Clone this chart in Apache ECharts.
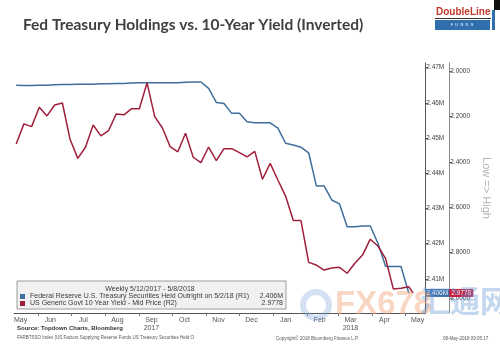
<!DOCTYPE html>
<html>
<head>
<meta charset="utf-8">
<script src="https://cdn.jsdelivr.net/npm/echarts@6/dist/echarts.min.js"></script>
<style>
  html, body { margin: 0; padding: 0; background: #ffffff; }
  #chart { width: 500px; height: 348px; }
</style>
</head>
<body>
<div id="chart"></div>
<script>
// Weekly observation dates (Fridays, plus the latest partial week)
const weekDates = [
  '2017-05-12','2017-05-19','2017-05-26','2017-06-02','2017-06-09','2017-06-16','2017-06-23','2017-06-30',
  '2017-07-07','2017-07-14','2017-07-21','2017-07-28','2017-08-04','2017-08-11','2017-08-18','2017-08-25',
  '2017-09-01','2017-09-08','2017-09-15','2017-09-22','2017-09-29','2017-10-06','2017-10-13','2017-10-20',
  '2017-10-27','2017-11-03','2017-11-10','2017-11-17','2017-11-24','2017-12-01','2017-12-08','2017-12-15',
  '2017-12-22','2017-12-29','2018-01-05','2018-01-12','2018-01-19','2018-01-26','2018-02-02','2018-02-09',
  '2018-02-16','2018-02-23','2018-03-02','2018-03-09','2018-03-16','2018-03-23','2018-03-30','2018-04-06',
  '2018-04-13','2018-04-20','2018-04-27','2018-05-04','2018-05-08'
];

// Fed Treasury securities held outright (millions of $ millions, shown as "M")
const fedHoldings = [
  2.4650, 2.4649, 2.4649, 2.4650, 2.4650, 2.4651, 2.4652, 2.4652, 2.4653, 2.4653,
  2.4653, 2.4654, 2.4654, 2.4655, 2.4655, 2.4656, 2.4657, 2.4657, 2.4657, 2.4657,
  2.4657, 2.4657, 2.4658, 2.4659, 2.4659, 2.4641, 2.4601, 2.4598, 2.4570, 2.4570,
  2.4546, 2.4543, 2.4543, 2.4543, 2.4528, 2.4485, 2.4480, 2.4474, 2.4458, 2.4364,
  2.4364, 2.4324, 2.4313, 2.4248, 2.4248, 2.4250, 2.4250, 2.4201, 2.4135, 2.4135,
  2.4135, 2.4060, null
];

// US generic govt 10-year yield, mid price (%)
const tenYearYield = [
  2.322, 2.233, 2.245, 2.160, 2.198, 2.150, 2.141, 2.301, 2.385, 2.336,
  2.238, 2.286, 2.263, 2.189, 2.193, 2.166, 2.166, 2.052, 2.201, 2.251,
  2.333, 2.356, 2.274, 2.380, 2.404, 2.335, 2.395, 2.342, 2.342, 2.360,
  2.378, 2.354, 2.477, 2.407, 2.480, 2.551, 2.659, 2.659, 2.843, 2.855,
  2.877, 2.868, 2.865, 2.891, 2.847, 2.811, 2.741, 2.771, 2.827, 2.960,
  2.957, 2.950, 2.9778
];

const seriesNames = [
  'Federal Reserve U.S. Treasury Securities Held Outright on 5/2/18 (R1)',
  'US Generic Govt 10 Year Yield - Mid Price (R2)'
];
const lastValueText = ['2.406M', '2.9778'];

// Month labels sit mid-month; ticks mark month starts
const monthLabelDates = [
  '2017-05-16','2017-06-12','2017-07-12','2017-08-12','2017-09-12','2017-10-12','2017-11-12',
  '2017-12-12','2018-01-12','2018-02-12','2018-03-12','2018-04-12','2018-05-12'
];
const monthLabelTexts = ['May','Jun','Jul','Aug','Sep\n2017','Oct','Nov','Dec','Jan','Feb','Mar\n2018','Apr','May'];
const monthStartDates = [
  '2017-06-01','2017-07-01','2017-08-01','2017-09-01','2017-10-01','2017-11-01','2017-12-01',
  '2018-01-01','2018-02-01','2018-03-01','2018-04-01','2018-05-01'
];

const holdingsTicks = [2.41, 2.42, 2.43, 2.44, 2.45, 2.46, 2.47];
const yieldTicks = [2.0, 2.2, 2.4, 2.6, 2.8, 3.0];

const BLUE = '#3f6f9c';
const RED = '#a01f3a';
const FONT = '"Liberation Sans", Arial, sans-serif';

const toTime = d => new Date(d + 'T00:00:00Z').getTime();
const labelTimes = monthLabelDates.map(toTime);
const tickTimes = monthStartDates.map(toTime);

const chart = echarts.init(document.getElementById('chart'), null, { renderer: 'canvas' });

const option = {
  animation: false,
  backgroundColor: '#ffffff',
  title: {
    text: 'Fed Treasury Holdings vs. 10-Year Yield (Inverted)',
    left: 18, top: 12,
    textStyle: { fontFamily: 'Lato, "Open Sans", sans-serif', fontSize: 15.5, fontWeight: 'bold', color: '#404040' }
  },
  grid: { left: 14, right: 57, top: 63, bottom: 35, containLabel: false },
  legend: {
    orient: 'vertical',
    left: 17, top: 281,
    icon: 'rect', itemWidth: 5, itemHeight: 5, itemGap: 0,
    padding: [12, 3, 2, 3],
    backgroundColor: '#f1f1f1', borderColor: '#9c9c9c', borderWidth: 1,
    selectedMode: false,
    textStyle: {
      fontFamily: FONT, fontSize: 7, color: '#3a3a3a',
      rich: {
        n: { fontFamily: FONT, fontSize: 7, color: '#3a3a3a', width: 226 },
        v: { fontFamily: FONT, fontSize: 7, color: '#3a3a3a', width: 27, align: 'right' }
      }
    },
    formatter: name => `{n|${name}}{v|${lastValueText[seriesNames.indexOf(name)]}}`,
    data: seriesNames
  },
  xAxis: {
    type: 'value',
    min: toTime('2017-05-10'),
    max: toTime('2018-05-19'),
    axisLine: { show: true, onZero: false, lineStyle: { color: '#555555', width: 1 } },
    axisTick: { show: true, customValues: tickTimes, length: 3, lineStyle: { color: '#777777' } },
    axisLabel: {
      customValues: labelTimes,
      formatter: v => monthLabelTexts[labelTimes.indexOf(v)] || '',
      fontFamily: FONT, fontSize: 7, color: '#555555', margin: 3, lineHeight: 8
    },
    splitLine: { show: false }
  },
  yAxis: [
    {
      type: 'value', position: 'right',
      min: 2.4003, max: 2.4713,
      axisLine: { show: true, lineStyle: { color: '#555555', width: 1 } },
      axisTick: { show: true, customValues: holdingsTicks, length: 3, lineStyle: { color: '#555555' } },
      axisLabel: {
        customValues: holdingsTicks,
        formatter: v => v.toFixed(2) + 'M',
        fontFamily: FONT, fontSize: 6.5, color: '#444444', margin: 1
      },
      splitLine: { show: false }
    },
    {
      type: 'value', position: 'right', offset: 24, inverse: true,
      min: 1.9648, max: 3.0661,
      name: 'Low => High', nameLocation: 'middle', nameRotate: -90, nameGap: 17,
      nameTextStyle: { fontFamily: FONT, fontSize: 11, color: '#b4b4b4', padding: [0, 0, 0, 0] },
      axisLine: { show: true, lineStyle: { color: '#8a8a8a', width: 1 } },
      axisTick: { show: true, customValues: yieldTicks, length: 3, lineStyle: { color: '#666666' } },
      axisLabel: {
        customValues: yieldTicks,
        formatter: v => v.toFixed(4),
        fontFamily: FONT, fontSize: 6.5, color: '#444444', margin: 1
      },
      splitLine: { show: false }
    }
  ],
  series: [
    {
      name: seriesNames[0], type: 'line', yAxisIndex: 0, showSymbol: false,
      data: weekDates.map((d, i) => [toTime(d), fedHoldings[i]]),
      lineStyle: { color: BLUE, width: 1.5 }, itemStyle: { color: BLUE }
    },
    {
      name: seriesNames[1], type: 'line', yAxisIndex: 1, showSymbol: false,
      data: weekDates.map((d, i) => [toTime(d), tenYearYield[i]]),
      lineStyle: { color: RED, width: 1.5 }, itemStyle: { color: RED }, z: 3
    }
  ]
};

chart.setOption(option);

// Value tags at the right axes, placed through the axes' own scales
const lastHolding = fedHoldings.filter(v => v != null).slice(-1)[0];
const lastYield = tenYearYield[tenYearYield.length - 1];
const axisX = chart.convertToPixel({ xAxisIndex: 0 }, toTime('2018-05-19'));
const holdY = chart.convertToPixel({ yAxisIndex: 0 }, lastHolding);
const yieldY = chart.convertToPixel({ yAxisIndex: 1 }, lastYield);

const tag = (x, y, text, color) => ({
  type: 'group', x: x, y: y, z: 20,
  children: [
    { type: 'rect', z: 20, shape: { x: 0, y: -4, width: 24, height: 8 }, style: { fill: color } },
    { type: 'text', z: 21, x: 12, y: 0, style: { text: text, fill: '#ffffff', font: '6.5px ' + FONT, align: 'center', verticalAlign: 'middle' } }
  ]
});

chart.setOption({
  graphic: [
    // legend header
    { type: 'text', z: 50, x: 150, y: 289, style: { text: 'Weekly 5/12/2017 - 5/8/2018', fill: '#3a3a3a', font: '7px ' + FONT, align: 'center', verticalAlign: 'middle' } },
    tag(axisX, holdY, lastValueText[0], '#3a6ea8'),
    tag(axisX + 24, yieldY, lastValueText[1], '#c41a3c'),
    // DoubleLine logo
    { type: 'text', x: 436, y: 7, style: { text: 'DoubleLine', fill: '#c0392b', font: 'bold 10px ' + FONT } },
    { type: 'rect', shape: { x: 435, y: 18, width: 56, height: 1 }, style: { fill: '#333333' } },
    { type: 'rect', shape: { x: 435, y: 20, width: 55, height: 10 }, style: { fill: '#2f6fae' } },
    { type: 'text', x: 462, y: 25, style: { text: 'F  U  N  D  S', fill: '#ffffff', font: '4px ' + FONT, align: 'center', verticalAlign: 'middle' } },
    { type: 'rect', shape: { x: 492, y: 10, width: 3, height: 20 }, style: { fill: '#2f6fae' } },
    { type: 'rect', shape: { x: 494, y: 0, width: 6, height: 10 }, style: { fill: '#111111' } },
    // footer
    { type: 'text', x: 17, y: 325, style: { text: 'Source: Topdown Charts, Bloomberg', fill: '#333333', font: 'bold 6px ' + FONT } },
    { type: 'text', x: 17, y: 335, style: { text: 'FARBTSSO Index (US Factors Supplying Reserve Funds US Treasury Securities Held O', fill: '#555555', font: '4.5px ' + FONT } },
    { type: 'text', x: 276, y: 336, style: { text: 'Copyright© 2018 Bloomberg Finance L.P.', fill: '#555555', font: '4.5px ' + FONT } },
    { type: 'text', x: 443, y: 336, style: { text: '08-May-2018 09:05:17', fill: '#555555', font: '4.5px ' + FONT } },
    // site watermark
    { type: 'circle', z: 100, shape: { cx: 316, cy: 305, r: 13 }, style: { fill: 'none', stroke: '#6f9bd6', lineWidth: 6, opacity: 0.3 } },
    { type: 'text', z: 100, x: 335, y: 288, style: { text: 'FX678', fill: '#f2a57a', font: 'bold 33px ' + FONT, opacity: 0.45 } },
    { type: 'text', z: 100, x: 420, y: 286, style: { text: '汇通网', fill: '#6a9ad8', font: 'bold 30px "Noto Sans CJK SC"', opacity: 0.4 } }
  ]
});
</script>
</body>
</html>
